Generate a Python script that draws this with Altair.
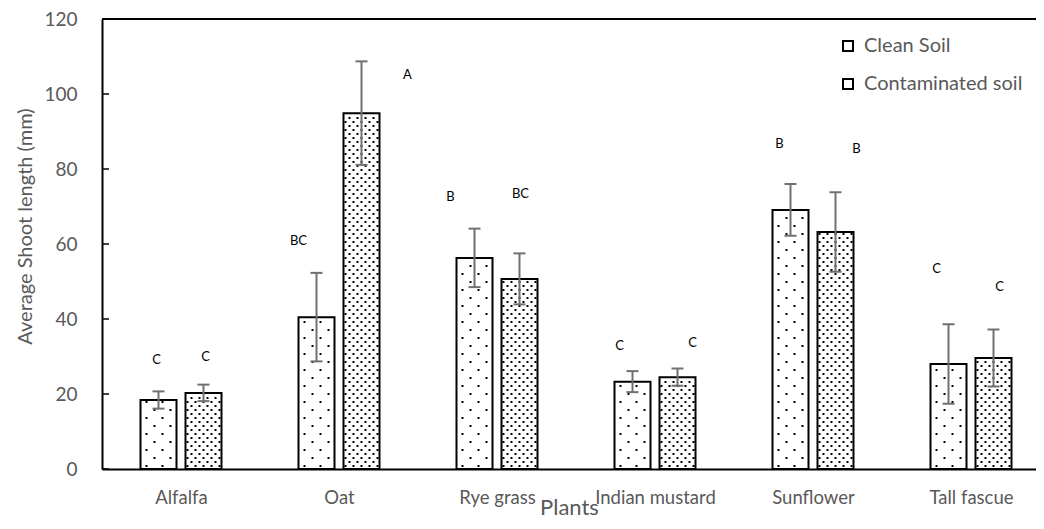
import altair as alt
import pandas as pd

# ---------------- data ----------------
plants = ["Alfalfa", "Oat", "Rye grass", "Indian mustard", "Sunflower", "Tall fascue"]
series = ["Clean Soil", "Contaminated soil"]
clean_mean = [18.4, 40.5, 56.3, 23.3, 69.1, 28.0]
clean_err = [2.3, 11.8, 7.8, 2.8, 6.9, 10.6]
contam_mean = [20.3, 94.9, 50.7, 24.5, 63.2, 29.6]
contam_err = [2.2, 13.8, 6.8, 2.3, 10.6, 7.6]
clean_letters = ["C", "BC", "B", "C", "B", "C"]
contam_letters = ["C", "A", "BC", "C", "B", "C"]
clean_letter_y = [29.1, 60.8, 72.5, 32.8, 86.7, 53.3]
contam_letter_y = [29.9, 105.1, 73.3, 33.6, 85.3, 48.5]
y_ticks = [0, 20, 40, 60, 80, 100, 120]

# ---------------- layout / style ----------------
W, H = 934, 450
GROUP_PX = 158
x_min = -0.5
x_max = x_min + W / GROUP_PX
PX = (x_max - x_min) / W        # x units per pixel
PY = 120 / H                     # y units per pixel
FONT = "Lato"
GREY = "#595959"
clean_nudge = [-2, -18, -24, -13, -11, -12]
contam_nudge = [2, 46, 1, 15, 21, 6]

rows = []
for i, p in enumerate(plants):
    rows.append(dict(idx=i, plant=p, series=series[0], sidx=0, mean=clean_mean[i],
                     err=clean_err[i], letter=clean_letters[i], ly=clean_letter_y[i]))
    rows.append(dict(idx=i, plant=p, series=series[1], sidx=1, mean=contam_mean[i],
                     err=contam_err[i], letter=contam_letters[i], ly=contam_letter_y[i]))
df = pd.DataFrame(rows)

OFF = 22.5 * PX
HALF = 18 * PX
CAP = 6 * PX


def base():
    return alt.Chart(df).transform_calculate(
        cx=f"datum.idx + (datum.sidx == 0 ? {-OFF} : {OFF})"
    ).transform_calculate(
        left=f"datum.cx - {HALF}",
        right=f"datum.cx + {HALF}",
        lo="datum.mean - datum.err",
        hi="datum.mean + datum.err",
        cl=f"datum.cx - {CAP}",
        cr=f"datum.cx + {CAP}",
    )


xscale = alt.Scale(domain=[x_min, x_max], nice=False, zero=False)
yscale = alt.Scale(domain=[0, 120], nice=False)

label_expr = "[" + ",".join(f"'{p}'" for p in plants) + "][datum.value]"

x_axis = alt.Axis(
    values=list(range(len(plants))), labelExpr=label_expr, title="Plants",
    ticks=False, grid=False, domainColor="black", domainWidth=2,
    labelFont=FONT, labelFontSize=18.5, labelColor=GREY, labelPadding=19,
    titleFont=FONT, titleFontSize=22, titleColor=GREY, titleFontWeight="normal",
    titleY=45, titleBaseline="alphabetic",
)
y_axis = alt.Axis(
    values=y_ticks, title="Average Shoot length (mm)", ticks=False, grid=False,
    domainColor="black", domainWidth=2,
    labelFont=FONT, labelFontSize=19, labelColor=GREY, labelPadding=25,
    titleFont=FONT, titleFontSize=20, titleColor=GREY, titleFontWeight="normal",
    titleX=-77, titleY=207, titleAngle=-90, titleBaseline="middle", titleAlign="center",
)


def X(field):
    return alt.X(field, scale=xscale, axis=x_axis, title="Plants")


def Y(field):
    return alt.Y(field, scale=yscale, axis=y_axis, title="Average Shoot length (mm)")


bars = base().mark_rect(stroke="black", strokeWidth=2).encode(
    x=X("left:Q"),
    x2="right:Q",
    y=Y("mean:Q"),
    y2=alt.datum(0),
    fill=alt.Fill(
        "series:N",
        scale=alt.Scale(domain=series, range=["white", "white"]),
        legend=alt.Legend(
            title=None, orient="none", legendX=736, legendY=17, padding=0,
            symbolType="square", symbolSize=100, symbolStrokeColor="black",
            symbolStrokeWidth=2, labelFont=FONT, labelFontSize=20,
            labelColor=GREY, rowPadding=18, labelOffset=6, labelLimit=400,
        ),
    ),
)

# dotted fill pattern
dots = base().transform_calculate(
    rstep=f"datum.sidx == 0 ? {8 * PY} : {4 * PY}",
    cstep=f"datum.sidx == 0 ? {16 * PX} : {8 * PX}",
    c0=f"datum.sidx == 0 ? {6 * PX} : {2 * PX}",
).transform_calculate(
    ry=f"sequence({3 * PY}, datum.mean - {1.5 * PY}, datum.rstep)"
).transform_flatten(["ry"]).transform_calculate(
    ri="floor(datum.ry / datum.rstep)"
).transform_calculate(
    rx=f"sequence(datum.left + datum.c0 + (datum.ri % 2) * datum.cstep / 2, datum.right - {1 * PX}, datum.cstep)"
).transform_flatten(["rx"]).mark_square(size=4, color="black", opacity=1).encode(
    x=X("rx:Q"),
    y=Y("ry:Q"),
)

err_rule = base().mark_rule(color="#707070", strokeWidth=2).encode(
    x=X("cx:Q"),
    y=Y("lo:Q"),
    y2="hi:Q",
)
caps = base().transform_fold(["lo", "hi"], as_=["k", "v"]).mark_rule(
    color="#707070", strokeWidth=2
).encode(
    x=X("cl:Q"),
    x2="cr:Q",
    y=Y("v:Q"),
)

texts = []
for s, nudges in enumerate([clean_nudge, contam_nudge]):
    for i in range(len(plants)):
        texts.append(
            base().transform_filter(f"datum.idx == {i} && datum.sidx == {s}")
            .mark_text(font=FONT, fontSize=13, color="black", dx=nudges[i],
                       align="center", baseline="middle")
            .encode(
                x=X("cx:Q"),
                y=Y("ly:Q"),
                text="letter:N",
            )
        )

inner_ticks = alt.Chart(pd.DataFrame({"t": y_ticks})).mark_rule(
    color="black", strokeWidth=1.5
).encode(
    y=Y("t:Q"),
    x=alt.value(0),
    x2=alt.value(7),
)

top_line = alt.Chart(alt.Data(values=[{}])).mark_rule(color="black", strokeWidth=2).encode(
    x=alt.value(0), x2=alt.value(W), y=alt.value(0)
)

chart = alt.layer(bars, dots, err_rule, caps, *texts, inner_ticks, top_line).properties(
    width=W,
    height=H,
    autosize=alt.AutoSizeParams(type="none"),
    padding={"left": 94, "top": 11, "right": 0, "bottom": 52},
    background="white",
).configure_view(stroke=None)

chart.save("out.html", embed_options={"renderer": "svg", "actions": False})
